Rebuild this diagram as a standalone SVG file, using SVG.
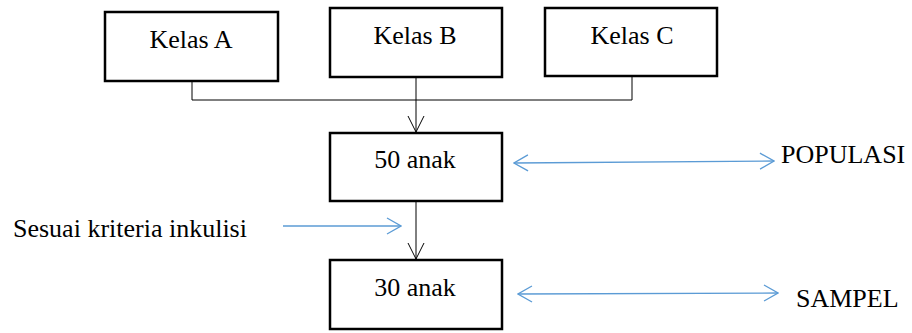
<svg xmlns="http://www.w3.org/2000/svg" width="912" height="333" viewBox="0 0 912 333">
<style>
.box{fill:#fff;stroke:#000;stroke-width:2.5}
.shadow{fill:none;stroke:#9a9a9a;stroke-width:1}
.t{font-family:"Liberation Serif","Times New Roman",serif;font-size:26px;fill:#000}
.c{text-anchor:middle}
.k{fill:none;stroke:#000;stroke-width:1}
.b{fill:none;stroke:#5B9BD5;stroke-width:1.3}
</style>
<defs>
<marker id="ak" markerUnits="userSpaceOnUse" viewBox="-17 -9 18 18" refX="0" refY="0" markerWidth="18" markerHeight="18" orient="auto">
<path d="M-16,-8 L0,0 L-16,8" fill="none" stroke="#000" stroke-width="1"/>
</marker>
<marker id="ab" markerUnits="userSpaceOnUse" viewBox="-17 -10 18 20" refX="0" refY="0" markerWidth="18" markerHeight="20" orient="auto-start-reverse">
<path d="M-14,-8 L0,0 L-14,8" fill="none" stroke="#5B9BD5" stroke-width="1.3"/>
</marker>
</defs>
<g id="connectors">
<path class="k" d="M192,81 V100 H632 V76"/>
<path class="k" d="M416,77 V132" marker-end="url(#ak)"/>
<path class="k" d="M416,201 V259" marker-end="url(#ak)"/>
<path class="b" d="M283,226 H401" marker-end="url(#ab)"/>
<path class="b" d="M514,163 L774,161" marker-start="url(#ab)" marker-end="url(#ab)"/>
<path class="b" d="M518,294 L778,293" marker-start="url(#ab)" marker-end="url(#ab)"/>
</g>
<g id="kelasA">
<rect class="box" x="105" y="12" width="173" height="69"/>
<text class="t c" x="191" y="48">Kelas A</text>
</g>
<g id="kelasB">
<rect class="box" x="330" y="8" width="172" height="69"/>
<text class="t c" x="415" y="44">Kelas B</text>
</g>
<g id="kelasC">
<rect class="box" x="545" y="8" width="172" height="68"/>
<text class="t c" x="632" y="44">Kelas C</text>
</g>
<g id="anak50">
<rect class="box" x="330" y="133" width="172" height="68"/>
<text class="t c" x="415" y="168">50 anak</text>
</g>
<g id="anak30">
<rect class="box" x="330" y="260" width="172" height="69"/>
<text class="t c" x="415" y="296">30 anak</text>
</g>
<g id="labels">
<text class="t" x="13" y="237">Sesuai kriteria inkulisi</text>
<text class="t" x="781" y="163">POPULASI</text>
<text class="t" x="796" y="307">SAMPEL</text>
</g>
</svg>
